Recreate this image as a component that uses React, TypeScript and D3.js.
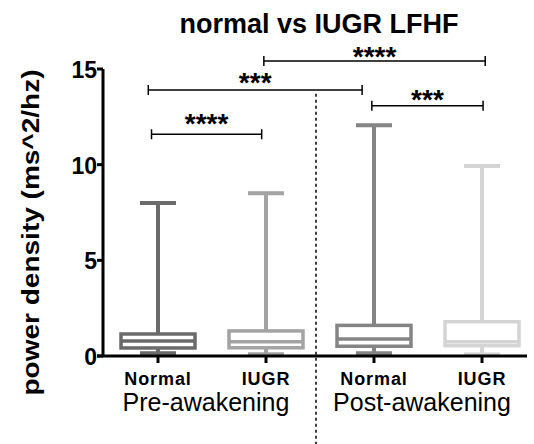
import React from 'react';
import * as d3 from 'd3';

const categories = ['Normal', 'IUGR', 'Normal', 'IUGR'];
const groups = ['Pre-awakening', 'Post-awakening'];
const mins = [0.14, 0.09, 0.15, 0.08];
const q1s = [0.42, 0.43, 0.51, 0.54];
const medians = [0.78, 0.75, 0.89, 0.75];
const q3s = [1.15, 1.31, 1.6, 1.79];
const maxs = [8.0, 8.5, 12.06, 9.93];
const boxColors = ['#6b6b6b', '#a3a3a3', '#858585', '#d4d4d4'];
const yTicks = [0, 5, 10, 15];

// significance brackets (start / end in category positions, heights in data units)
const bracketFrom = [-0.06, -0.09, 0.98, 1.98];
const bracketTo = [0.96, 1.89, 3.03, 3.01];
const bracketY = [11.59, 13.9, 15.42, 13.08];
const bracketLabelY = [12.39, 14.53, 15.89, 13.64];
const bracketLabels = ['****', '***', '****', '***'];

const font = '"Liberation Sans", Arial, sans-serif';

const App = () => {
  const width = 534;
  const height = 444;

  const y = d3.scaleLinear().domain([0, 15]).range([356, 69]);
  const x = d3.scaleLinear().domain([0, 3]).range([158, 482]);

  const boxW = 74;
  const capW = 36;
  const axisLeft = 103;
  const axisRight = 527;
  const dividerX = x(1.5) - 4;

  return (
    <svg
      width={width}
      height={height}
      style={{ position: 'absolute', left: 0, top: 0, fontFamily: font }}
    >
      <rect width={width} height={height} fill="#fff" />

      <text x={319} y={33} textAnchor="middle" fontSize={27} fontWeight="bold">
        normal vs IUGR LFHF
      </text>

      <text
        transform={`translate(39,${(y(0) + y(15)) / 2 + 20}) rotate(-90)`}
        textAnchor="middle"
        fontSize={24}
        fontWeight="bold"
        textLength={326}
        lengthAdjust="spacingAndGlyphs"
      >
        power density (ms^2/hz)
      </text>

      {/* divider between pre and post */}
      <line
        x1={dividerX}
        x2={dividerX}
        y1={y(13.7)}
        y2={height}
        stroke="#000"
        strokeWidth={1.5}
        strokeDasharray="3,3"
      />

      {/* boxes */}
      {categories.map((c, i) => {
        const cx = x(i);
        const col = boxColors[i];
        return (
          <g key={i}>
            <line x1={cx} x2={cx} y1={y(maxs[i])} y2={y(q3s[i])} stroke={col} strokeWidth={4} />
            <line x1={cx} x2={cx} y1={y(q1s[i])} y2={y(mins[i])} stroke={col} strokeWidth={4} />
            <line x1={cx - capW / 2} x2={cx + capW / 2} y1={y(maxs[i])} y2={y(maxs[i])} stroke={col} strokeWidth={4} />
            <line x1={cx - capW / 2} x2={cx + capW / 2} y1={y(mins[i])} y2={y(mins[i])} stroke={col} strokeWidth={4} />
            <rect
              x={cx - boxW / 2}
              y={y(q3s[i])}
              width={boxW}
              height={y(q1s[i]) - y(q3s[i])}
              fill="#fff"
              stroke={col}
              strokeWidth={3.5}
            />
            <line
              x1={cx - boxW / 2}
              x2={cx + boxW / 2}
              y1={y(medians[i])}
              y2={y(medians[i])}
              stroke={col}
              strokeWidth={3.5}
            />
          </g>
        );
      })}

      {/* axes */}
      <line x1={axisLeft} x2={axisLeft} y1={y(15)} y2={y(0)} stroke="#000" strokeWidth={3} />
      <line x1={axisLeft - 6} x2={axisRight} y1={y(0)} y2={y(0)} stroke="#000" strokeWidth={3} />
      {yTicks.map((t) => (
        <g key={t}>
          <line x1={axisLeft - 6} x2={axisLeft} y1={y(t)} y2={y(t)} stroke="#000" strokeWidth={3} />
          <text x={axisLeft - 6} y={y(t) + 9} textAnchor="end" fontSize={23} fontWeight="bold">
            {t}
          </text>
        </g>
      ))}
      {categories.map((c, i) => (
        <g key={i}>
          <line x1={x(i)} x2={x(i)} y1={y(0)} y2={y(0) + 7} stroke="#000" strokeWidth={3} />
          <text x={x(i)} y={385} textAnchor="middle" fontSize={18} fontWeight="bold" letterSpacing={0.9}>
            {c}
          </text>
        </g>
      ))}
      {groups.map((g, i) => (
        <text key={g} x={x(i * 2 + 0.5) - 6} y={411} textAnchor="middle" fontSize={25}>
          {g}
        </text>
      ))}

      {/* significance brackets */}
      {bracketLabels.map((lab, i) => {
        const x1 = x(bracketFrom[i]);
        const x2 = x(bracketTo[i]);
        const by = y(bracketY[i]);
        return (
          <g key={i}>
            <line x1={x1} x2={x2} y1={by} y2={by} stroke="#000" strokeWidth={1.5} />
            <line x1={x1} x2={x1} y1={by - 5} y2={by + 5} stroke="#000" strokeWidth={1.5} />
            <line x1={x2} x2={x2} y1={by - 5} y2={by + 5} stroke="#000" strokeWidth={1.5} />
            <text
              x={(x1 + x2) / 2}
              y={y(bracketLabelY[i]) + 14}
              textAnchor="middle"
              fontSize={28}
              fontWeight="bold"
            >
              {lab}
            </text>
          </g>
        );
      })}
    </svg>
  );
};

export default App;
